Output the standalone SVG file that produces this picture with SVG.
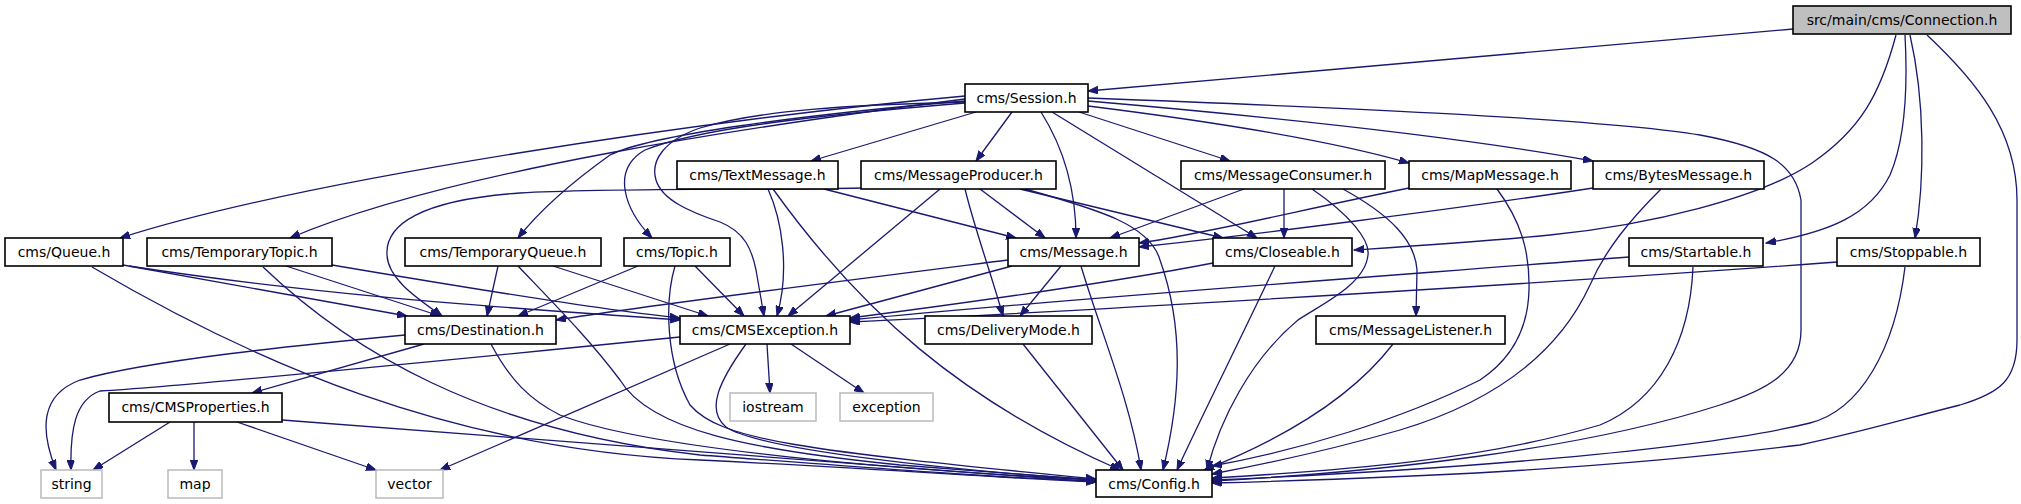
<svg xmlns="http://www.w3.org/2000/svg" width="2021" height="504" viewBox="0 0 2021 504">
<defs>
<marker id="ah" markerUnits="userSpaceOnUse" markerWidth="11" markerHeight="8" refX="10" refY="3.75" orient="auto">
<path d="M0,0 L10,3.75 L0,7.5 z" fill="#191970" stroke="#191970" stroke-width="1"/>
</marker>
</defs>
<style>
.n rect{fill:#ffffff;stroke:#000000;stroke-width:1.6}
.g rect{fill:#ffffff;stroke:#bfbfbf;stroke-width:1.6}
.r rect{fill:#bfbfbf;stroke:#000000;stroke-width:1.6}
text{font-family:"DejaVu Sans","Liberation Sans",sans-serif;font-size:14px;fill:#000000;text-anchor:middle}
.e path{fill:none;stroke:#191970;stroke-width:1.3;marker-end:url(#ah)}
</style>
<rect width="2021" height="504" fill="#ffffff"/>
<g class="e" id="edges">
<path d="M1793,29 L1088,91"/>
<path d="M1896,35 C1880,95 1860,130 1812,163 C1760,198 1650,225 1550,235 C1480,242 1400,247 1354,250"/>
<path d="M1905,35 C1908,90 1905,140 1890,175 C1870,215 1830,232 1766,243"/>
<path d="M1910,35 C1925,100 1925,180 1915,238"/>
<path d="M1927,35 C1975,80 2017,130 2017,200 L2017,340 C2017,380 2000,393 1960,405 C1900,420 1870,430 1800,445 C1600,470 1400,478 1212,483"/>
<path d="M965,96 C700,120 300,180 120,238"/>
<path d="M965,99 C760,125 450,170 290,238"/>
<path d="M965,101 C800,115 650,135 610,155 C575,180 540,210 518,238"/>
<path d="M965,103 C820,115 700,128 645,150 C610,170 625,210 652,238"/>
<path d="M965,102 C850,105 760,110 700,128 C665,140 650,160 656,180 C662,200 690,212 720,222 C745,232 752,250 756,270 L764,316"/>
<path d="M976,112 L811,161"/>
<path d="M1012,112 L976,161"/>
<path d="M1041,112 C1065,150 1076,190 1076,238"/>
<path d="M1052,112 L1257,238"/>
<path d="M1079,112 L1230,161"/>
<path d="M1088,106 C1200,120 1330,140 1409,163"/>
<path d="M1088,101 C1250,115 1450,135 1593,161"/>
<path d="M1088,98 C1300,106 1600,118 1700,135 C1770,148 1795,165 1801,200 L1801,330 C1801,375 1760,392 1720,405 C1580,450 1380,472 1212,481"/>
<path d="M824,189 L1016,238"/>
<path d="M768,189 C782,220 790,270 777,316"/>
<path d="M773,189 C860,310 960,400 1120,470"/>
<path d="M861,188 C760,190 600,188 520,193 C420,200 385,225 387,255 C388,280 420,300 442,316"/>
<path d="M940,189 L788,316"/>
<path d="M980,189 L1045,238"/>
<path d="M965,189 C975,230 990,270 1003,316"/>
<path d="M1020,189 L1223,238"/>
<path d="M1025,189 C1100,210 1150,225 1160,260 C1185,330 1180,400 1163,470"/>
<path d="M1244,189 L1110,238"/>
<path d="M1284,189 L1284,238"/>
<path d="M1343,189 C1390,215 1415,240 1417,270 L1416,316"/>
<path d="M1312,189 C1350,215 1370,240 1368,255 C1365,285 1320,305 1298,320 C1250,360 1220,420 1207,470"/>
<path d="M1409,188 C1300,210 1200,235 1139,243"/>
<path d="M1497,189 C1520,220 1530,250 1529,290 C1528,330 1510,360 1480,380 C1400,420 1300,450 1212,466"/>
<path d="M1593,188 C1450,210 1250,235 1139,247"/>
<path d="M1661,189 C1630,220 1605,250 1590,285 C1560,350 1500,400 1400,430 C1330,450 1260,465 1212,474"/>
<path d="M123,265 L407,316"/>
<path d="M129,266 C350,300 550,310 680,320"/>
<path d="M92,267 C250,360 450,450 700,460 C900,470 1000,478 1096,482"/>
<path d="M286,266 L440,316"/>
<path d="M332,265 C450,285 600,310 680,318"/>
<path d="M263,267 C350,350 480,430 700,455 C900,470 1000,478 1096,481"/>
<path d="M498,266 L487,316"/>
<path d="M553,266 L708,316"/>
<path d="M518,266 C560,310 590,340 620,380 C650,430 750,450 900,465 L1096,480"/>
<path d="M638,266 L518,316"/>
<path d="M695,266 L744,316"/>
<path d="M675,266 C665,300 665,360 690,405 C720,440 800,450 1096,479"/>
<path d="M1008,260 C850,280 650,305 556,320"/>
<path d="M1012,266 L826,316"/>
<path d="M1061,266 L1020,316"/>
<path d="M1081,266 C1100,330 1130,400 1141,470"/>
<path d="M1213,263 C1100,285 950,305 850,318"/>
<path d="M1275,266 C1240,340 1200,420 1177,470"/>
<path d="M1629,257 C1400,275 1050,300 850,320"/>
<path d="M1693,267 C1690,340 1660,400 1600,425 C1480,460 1350,470 1212,478"/>
<path d="M1837,262 C1600,280 1100,310 850,322"/>
<path d="M1905,267 C1895,350 1860,410 1810,423 C1700,450 1450,470 1212,480"/>
<path d="M405,335 C300,345 150,360 80,380 C40,395 40,430 56,470"/>
<path d="M424,344 L252,393"/>
<path d="M491,344 C510,380 530,400 560,415 C650,450 900,470 1096,480"/>
<path d="M680,337 C500,355 200,385 100,391 C75,400 70,430 71,470"/>
<path d="M730,344 L440,470"/>
<path d="M767,344 L770,393"/>
<path d="M791,344 L864,393"/>
<path d="M746,344 C720,380 705,410 726,427 C760,450 950,470 1096,480"/>
<path d="M170,422 L93,470"/>
<path d="M194,422 L194,470"/>
<path d="M237,422 L376,470"/>
<path d="M282,420 L1096,482"/>
<path d="M1023,344 L1123,470"/>
<path d="M1393,344 C1350,400 1280,440 1204,470"/>
</g>
<g id="n_connection" class="r"><rect x="1793" y="6" width="218" height="28"/><text x="1902" y="25">src/main/cms/Connection.h</text></g>
<g id="n_session" class="n"><rect x="965" y="84" width="123" height="28"/><text x="1026.5" y="103">cms/Session.h</text></g>
<g id="n_textmessage" class="n"><rect x="677" y="161" width="161" height="28"/><text x="757.5" y="180">cms/TextMessage.h</text></g>
<g id="n_messageproducer" class="n"><rect x="861" y="161" width="195" height="28"/><text x="958.5" y="180">cms/MessageProducer.h</text></g>
<g id="n_messageconsumer" class="n"><rect x="1181" y="161" width="204" height="28"/><text x="1283" y="180">cms/MessageConsumer.h</text></g>
<g id="n_mapmessage" class="n"><rect x="1409" y="161" width="162" height="28"/><text x="1490" y="180">cms/MapMessage.h</text></g>
<g id="n_bytesmessage" class="n"><rect x="1593" y="161" width="171" height="28"/><text x="1678.5" y="180">cms/BytesMessage.h</text></g>
<g id="n_queue" class="n"><rect x="5" y="238" width="118" height="28"/><text x="64" y="257">cms/Queue.h</text></g>
<g id="n_temporarytopic" class="n"><rect x="147" y="238" width="185" height="28"/><text x="239.5" y="257">cms/TemporaryTopic.h</text></g>
<g id="n_temporaryqueue" class="n"><rect x="405" y="238" width="196" height="28"/><text x="503" y="257">cms/TemporaryQueue.h</text></g>
<g id="n_topic" class="n"><rect x="624" y="238" width="106" height="28"/><text x="677" y="257">cms/Topic.h</text></g>
<g id="n_message" class="n"><rect x="1008" y="238" width="131" height="28"/><text x="1073.5" y="257">cms/Message.h</text></g>
<g id="n_closeable" class="n"><rect x="1213" y="238" width="139" height="28"/><text x="1282.5" y="257">cms/Closeable.h</text></g>
<g id="n_startable" class="n"><rect x="1629" y="238" width="134" height="28"/><text x="1696" y="257">cms/Startable.h</text></g>
<g id="n_stoppable" class="n"><rect x="1837" y="238" width="143" height="28"/><text x="1908.5" y="257">cms/Stoppable.h</text></g>
<g id="n_destination" class="n"><rect x="405" y="316" width="151" height="28"/><text x="480.5" y="335">cms/Destination.h</text></g>
<g id="n_cmsexception" class="n"><rect x="680" y="316" width="170" height="28"/><text x="765" y="335">cms/CMSException.h</text></g>
<g id="n_deliverymode" class="n"><rect x="925" y="316" width="167" height="28"/><text x="1008.5" y="335">cms/DeliveryMode.h</text></g>
<g id="n_messagelistener" class="n"><rect x="1316" y="316" width="189" height="28"/><text x="1410.5" y="335">cms/MessageListener.h</text></g>
<g id="n_cmsproperties" class="n"><rect x="109" y="393" width="173" height="29"/><text x="195.5" y="412">cms/CMSProperties.h</text></g>
<g id="n_iostream" class="g"><rect x="730" y="393" width="86" height="28"/><text x="773" y="412">iostream</text></g>
<g id="n_exception" class="g"><rect x="840" y="393" width="93" height="28"/><text x="886.5" y="412">exception</text></g>
<g id="n_string" class="g"><rect x="41" y="470" width="61" height="28"/><text x="71.5" y="489">string</text></g>
<g id="n_map" class="g"><rect x="168" y="470" width="54" height="28"/><text x="195" y="489">map</text></g>
<g id="n_vector" class="g"><rect x="376" y="470" width="67" height="28"/><text x="409.5" y="489">vector</text></g>
<g id="n_config" class="n"><rect x="1096" y="470" width="116" height="27"/><text x="1154" y="489">cms/Config.h</text></g>
</svg>
